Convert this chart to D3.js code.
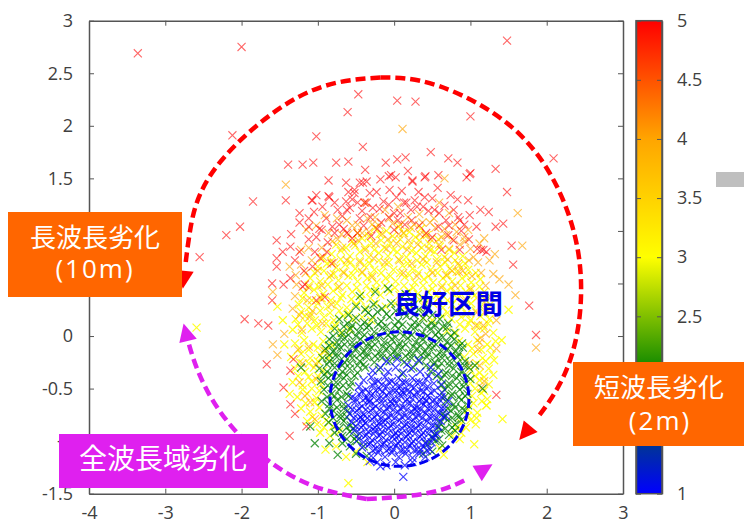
<!DOCTYPE html>
<html>
<head>
<meta charset="utf-8">
<script src="https://cdn.jsdelivr.net/npm/d3@7"></script>
<style>
  body { margin: 0; background: #fff; }
  text { font-family: "Open Sans", sans-serif; fill: #404040; }
  .ja { font-family: "Noto Sans CJK JP", sans-serif; fill: #fff; }
</style>
</head>
<body>
<svg id="chart" width="744" height="523"></svg>
<script>
// points, [x, y] in axis units, one list per colour band
const yellow_points = [
[-.25,1.03],[-.1,1],[.06,1.04],[.2,.99],[.35,1.02],[-.55,.9],[-.42,.93],[-.3,.88],[-.17,.91],[-.05,.88],[.08,.92],[.21,.87],[.33,.91],[.46,.88],[.58,.92],
[-.82,.78],[-.7,.81],[-.58,.76],[-.45,.8],[-.33,.75],[-.2,.79],[-.08,.76],[.04,.8],[.16,.75],[.29,.79],[.41,.76],[.53,.8],[.66,.75],[.79,.79],[.9,.76],
[-1,.66],[-.88,.69],[-.76,.65],[-.64,.68],[-.51,.64],[-.39,.67],[-.26,.63],[-.14,.66],[-.01,.63],[.11,.67],[.24,.64],[.36,.68],[.48,.63],[.6,.66],[.73,.64],[.85,.67],[.97,.63],
[-1.1,.55],[-.97,.52],[-.85,.56],[-.73,.53],[-.6,.57],[-.48,.52],[-.35,.55],[-.23,.51],[-.11,.55],[.02,.52],[.14,.56],[.27,.51],[.39,.54],[.51,.51],[.64,.55],[.76,.52],[.89,.55],[1.01,.51],[1.13,.54],
[-1.18,.41],[-1.05,.44],[-.93,.4],[-.8,.43],[-.68,.39],[-.55,.42],[-.43,.4],[-.31,.43],[-.18,.39],[-.06,.42],[.07,.39],[.19,.43],[.31,.4],[.44,.42],[.56,.39],[.69,.43],[.81,.4],[.94,.42],[1.06,.39],[1.18,.42],
[-1.25,.3],[-1.12,.27],[-1,.31],[-.87,.28],[-.75,.31],[-.62,.27],[-.5,.3],[-.37,.27],[-.24,.31],[-.11,.28],[.01,.31],[.13,.27],[.26,.3],[.39,.28],[.51,.31],[.64,.27],[.76,.3],[.89,.27],[1.01,.31],[1.14,.28],[1.26,.3],
[-1.29,.16],[-1.17,.19],[-1.04,.15],[-.92,.18],[-.79,.15],[-.67,.19],[-.54,.16],[-.42,.18],[-.3,.15],[.38,.17],[.5,.15],[.63,.19],[.75,.16],[.88,.18],[1,.15],[1.13,.19],[1.25,.16],
[-1.33,.06],[-1.21,.03],[-1.08,.07],[-.96,.04],[-.83,.07],[-.7,.03],[-.58,.06],[.69,.05],[.81,.03],[.93,.07],[1.06,.04],[1.18,.07],[1.3,.03],
[-1.3,-.07],[-1.18,-.04],[-1.06,-.08],[-.93,-.05],[-.81,-.09],[.85,-.05],[.97,-.08],[1.09,-.04],[1.22,-.08],[1.33,-.05],
[-1.35,-.2],[-1.22,-.17],[-1.1,-.21],[-.97,-.18],[-.86,-.21],[.92,-.2],[1.04,-.17],[1.16,-.21],[1.28,-.18],
[-1.3,-.31],[-1.17,-.34],[-1.05,-.3],[-.93,-.33],[1,-.32],[1.12,-.35],[1.24,-.31],
[-1.33,-.44],[-1.2,-.47],[-1.08,-.43],[-.96,-.46],[1,-.45],[1.12,-.42],[1.24,-.46],
[-1.27,-.58],[-1.14,-.55],[-1.02,-.59],[1.02,-.57],[1.14,-.54],[1.22,-.6],
[-1.22,-.69],[-1.1,-.72],[-.98,-.68],[.97,-.7],[1.09,-.73],[1.21,-.66],
[-1.14,-.81],[-1.01,-.84],[-.89,-.8],[.88,-.83],[1,-.8],[1.07,-.84],
[-.97,-.92],[-.84,-.95],[-.72,-.91],[.76,-.95],[.88,-.92],[.86,-.98],
[-.9,-1.08],[-.76,-1.05],[-.63,-1.15],[-.5,-1.1],[.6,-1.07],[.65,-1.13],[1.05,-1.03],
[-2.59,.08],[-1.53,.28],[-1.46,.15],[-1.44,-.08],[-1.37,-.55],[1.42,-.79],[1.31,-.23],[1.41,-.04],[1.3,-.37],[1.21,-.66],[1.5,.25],[-.6,-1.4],[-.35,-1.2],
[-.48,.98],[-.33,.95],[-.19,.97],[-.02,.95],[.13,.98],[.28,.94],[.43,.96],
[-.76,.87],[-.63,.84],[-.51,.86],[-.38,.84],[-.26,.82],[-.13,.84],[-.01,.82],[.11,.85],[.23,.81],[.36,.84],[.48,.82],[.6,.85],[.72,.82],
[-.95,.74],[-.83,.71],[-.7,.73],[-.57,.7],[-.45,.72],[-.32,.69],[-.2,.72],[-.07,.7],[.06,.73],[.18,.69],[.3,.72],[.43,.7],[.56,.73],[.67,.7],[.8,.72],[.93,.69],
[-1.04,.6],[-.92,.62],[-.79,.59],[-.67,.61],[-.54,.58],[-.42,.6],[-.29,.58],[-.17,.6],[-.05,.57],[.08,.6],[.2,.58],[.32,.6],[.45,.57],[.57,.6],[.7,.58],[.82,.61],[.95,.58],[1.07,.6],
[-1.12,.48],[-.99,.47],[-.87,.49],[-.74,.46],[-.62,.48],[-.49,.46],[-.36,.48],[-.24,.45],[-.12,.48],[.01,.46],[.13,.48],[.25,.46],[.38,.48],[.5,.45],[.63,.48],[.75,.46],[.87,.48],[1,.46],[1.12,.47],
[-1.2,.36],[-1.08,.34],[-.95,.36],[-.83,.34],[-.7,.36],[-.56,.35],[-.44,.34],[-.31,.36],[.33,.35],[.45,.34],[.58,.36],[.7,.34],[.83,.36],[.95,.34],[1.08,.36],[1.2,.34],
[-1.22,.23],[-1.09,.21],[-.97,.24],[-.84,.22],[-.72,.24],[-.6,.22],[.7,.22],[.82,.24],[.95,.21],[1.07,.24],[1.19,.22],
[-1.26,.11],[-1.14,.12],[-1.01,.1],[-.89,.12],[-.77,.1],[.86,.11],[.98,.12],[1.1,.1],[1.23,.12],
[-1.24,-.12],[-1.12,-.13],[-1,-.11],[-.9,-.14],[1.02,-.12],[1.14,-.13],[1.26,-.11],
[-1.24,-.25],[-1.12,-.26],[-1,-.24],[1.08,-.26],[1.2,-.24],[-1.26,-.38],[-1.12,-.39],[-1,-.38],[1.06,-.38],[1.18,-.39],
[-1.2,-.51],[-1.08,-.5],[-.98,-.52],[1.06,-.5],[1.18,-.52],[-1.16,-.64],[-1.04,-.63],[1.04,-.64],[1.15,-.62],[-1.07,-.77],[-.95,-.76],[.97,-.76],[1.08,-.78],[-.92,-.87],[-.8,-.86],[.82,-.87],[.94,-.87]
];
const orange_points = [
[-1.42,1.44],[.11,1.97],[1.62,1.17],[1.68,.86],[1.18,.93],[.97,1.01],[1.32,.78],[.72,1.17],[.59,1.27],[.66,1.5],[1.3,.59],[1.38,.54],[1.5,.49],[1.59,.39],[1.34,.15],[1.34,-.12],[1.14,-.49],[1.12,-.06],[1.1,-.13],[1.86,-.11],
[-1.59,-.08],[-1.53,-.18],[-1.44,.02],[-1.26,-.13],[-1.24,-.44],[-1.04,-.79],[-1.21,.06],[-1.33,.26],[-1.11,.18],[-1.37,.66],[-1.59,.42],[-1.15,1.01],[-1.02,1.05],[-.91,1.15],[-.86,.98],
[-.38,1.27],[-.25,1.13],[-.12,1.2],[.05,1.23],[.18,1.13],[.33,1.16],[.47,1.08],[-.69,.97],[-.55,1.05],[-.42,.98],[-.29,1.06],[-.16,.97],[-.02,1.07],[.12,.98],[.26,1.06],[.4,.96],[.54,1.03],[.68,.96],[.82,.99],[.93,.9],
[-.95,.84],[-.81,.9],[-.68,.84],[-.53,.88],[-.38,.82],[-.24,.88],[-.1,.83],[.03,.88],[.17,.82],[.31,.87],[.45,.83],[.59,.87],[.72,.83],[.86,.87],[1,.83],[1.1,.7],
[-1.08,.72],[-.93,.75],[-.79,.7],[-.62,.72],[-.45,.7],[-.27,.74],[-.12,.7],[.07,.72],[.23,.69],[.38,.73],[.56,.7],[.7,.73],[.84,.69],[.98,.72],[1.14,.6],
[-1.16,.6],[-1,.62],[-.83,.58],[-.66,.6],[-.42,.61],[-.29,.56],[.12,.6],[.3,.57],[.5,.6],[.68,.58],[.85,.61],[1.02,.57],[1.2,.48],
[-1.28,.49],[-1.12,.46],[-.95,.48],[-.72,.47],[.62,.46],[.8,.48],[1,.44],[1.16,.34],[1.27,.37],[1.22,.25],
[-1.3,.38],[-1.14,.34],[-.97,.36],[-.82,.3],[.92,.34],[1.08,.22],[-1.24,.2],[-1.07,.24],[-.94,.12],[1.17,.1],[1.2,.02],[1.07,.1],[1.13,-.02],
[-1.12,-.1],[-1.02,-.27],[-1.17,-.57],[-1.1,-.63],[-1.02,-.41],[-1.2,-.26],[-.92,-.14],[.98,-.26],[1.18,-.43],[1.12,-.28],
[-.75,1.12],[-.62,1.1],[-.48,1.06],[-.35,1.12],[-.2,1.05],[-.06,1.12],[.08,1.06],[.22,1.03],[.37,1.08],[.52,1.12],[.66,1.02],[.8,1.06],[.92,.94],[-.74,.92],[-.6,.97],[-.47,.91],[-.33,.99],[-.08,.92],[.06,.97],[.19,.91],[.34,.97],[.48,.92],[.62,.94],[.76,.92],
[1.25,.72],[1.12,.88],[1.04,.75],[-1.22,.68],[-1.29,.58],[-1.22,.82],[-1.12,.84],[.9,.62],[.76,.62]
];
const red_points = [
[-3.36,2.69],[-2,2.75],[-2.12,1.91],[-1.02,1.9],[-.47,2.3],[-.61,2.13],[-.41,1.8],[-1.39,1.63],[-1.2,1.63],[-1.06,1.65],[-.76,1.65],[-.6,1.66],[-.38,1.58],[-1.42,1.29],[-1.85,1.28],[-.86,1.48],[-.63,1.46],[-2.02,1.04],[-2.2,.96],[-2.55,.75],
[1.48,2.81],[.04,2.24],[.28,2.23],[1,2.09],[2.09,1.69],[.48,1.75],[.71,1.69],[.83,1.65],[1.33,1.59],[1,1.55],[.95,1.51],[1.48,1.37],[1.43,1.07],[1.33,1.04],[1.13,1.2],[1.24,1.18],[1.54,.86],[1.56,.68],[1.77,.29],[1.86,.01],[1.34,-.56],
[-1.96,.16],[-1.78,.12],[-1.65,.1],[-1.67,-.27],[-1.32,-.22],[-1.36,-.33],[-1.45,-.49],[-1.36,-.65],[-1.3,-.74],[-1.15,-.86],[-1.37,-.95],
[-.11,1.65],[.04,1.68],[.15,1.7],[.18,1.57],[.41,1.52],[.58,1.53],[.99,1.54],[-.45,1.46],[-.36,1.47],[-.18,1.49],[-.07,1.52],[.02,1.51],[.24,1.47],[.57,1.41],[.74,1.34],[.83,1.3],[.97,1.29],
[-1.02,1.34],[-1.08,1.29],[-.86,1.33],[-.63,1.28],[-.6,1.37],[-.52,1.39],[-.39,1.27],[-.23,1.37],[-.06,1.39],[.16,1.27],[.32,1.37],[.5,1.31],[.59,1.17],[.86,1.1],[1.08,1.04],[1.17,.82],[1.09,.83],
[-1.24,1.17],[-1.24,1.08],[-.94,1.23],[-.74,1.2],[-.89,1.12],[-.98,1.02],[-1.12,.92],[-1.35,.97],[-1.54,.91],[-1.36,.85],[-1.46,.8],[-1.54,.74],[-1.24,.8],[-1.04,.8],[-.97,.74],[-1.54,.66],[-1.36,.55],[-1.6,.5],[-1.45,.49],[-1.17,.49],[-1.6,.34],[-1.02,.34],[-.91,.37],[-1.07,.66],[-.82,.69],[-1.2,.47],
[-.04,1.53],[.24,1.48],[.4,1.51],[.1,1.38],[-.07,1.25],[.03,1.32],[.27,1.29],[.4,1.32],[.13,1.27],[-.19,1.21],[.45,1.19],[.99,1.15],[.84,1.13],[0,1.17],[-.07,1.13],[.23,1.1],[.58,1.04],[.71,.96],[.78,.91],[.14,1.06],[-.17,1.08],[0,1.01],[1.14,.82],[1.21,.8],[.86,.82],
[-1.07,1.29],[-.85,1.32],[-.81,1.04],[-.95,1.01],[-.87,.89],[-.62,.98],[-.48,.98],[-.62,1.2],[-.48,1.27],[-.36,1.27],[-.55,1.3],[-.41,1.46],[-.52,1.36],[-.32,1.36],[-.31,1.13],[-.45,1.12],[-.72,1.06],[-.55,.93],[-.3,.95],[.3,1.23],[.68,1.1],[.42,.98],[.62,.82],
[-.78,1.27],[-.68,1.14],[-.58,1.22],[-.42,1.19],[-.28,1.22],[-.14,1.28],[.08,1.17],[.22,1.2],[.38,1.23],[.53,1.2],[.66,1.24],[.78,1.2],[.92,1.06],[-1.12,1.12],[-1.05,1.18],[-1.12,1.04],[-1.02,.94],[-.78,.98],[-.66,1.02],[-.4,1.05],[-.22,1.02],[.05,1.1],[.33,1.05],[.5,.94],[.72,1.05],[.88,1],[.98,.92],[-1.3,.72],[-1.18,.62],[-.88,.8]
];
const green_points = [
[-.45,.38],[-.25,.42],[-.08,.45],[.15,.4],[.38,.36],[.5,.2],[-.6,.2],
[-.5,.28],[-.38,.25],[-.27,.3],[-.16,.26],[-.04,.31],[.08,.27],[.2,.3],[.32,.25],[.44,.28],
[-.72,.16],[-.61,.12],[-.5,.17],[-.39,.13],[-.28,.18],[-.17,.14],[-.06,.18],[.05,.14],[.16,.19],[.27,.13],[.38,.17],[.49,.12],[.6,.16],[.71,.12],
[-.78,.07],[-.68,.03],[-.57,.07],[-.47,.04],[-.36,.08],[-.26,.04],[-.15,.08],[-.05,.03],[.06,.07],[.16,.04],[.27,.08],[.37,.03],[.48,.07],[.58,.04],[.69,.08],[.79,.03],
[-.85,-.03],[-.75,-.06],[-.65,-.02],[-.55,-.06],[-.44,-.03],[-.34,-.07],[-.24,-.02],[-.13,-.06],[-.03,-.03],[.07,-.07],[.18,-.02],[.28,-.06],[.38,-.03],[.49,-.07],[.59,-.02],[.69,-.06],[.79,-.03],[.89,-.07],
[-.9,-.12],[-.8,-.15],[-.7,-.11],[-.6,-.16],[-.5,-.12],[-.4,-.15],[-.3,-.11],[-.2,-.16],[-.1,-.12],[0,-.15],[.1,-.11],[.2,-.16],[.3,-.12],[.4,-.15],[.5,-.11],[.6,-.16],[.7,-.12],[.8,-.15],[.9,-.11],
[-.94,-.21],[-.85,-.24],[-.75,-.2],[-.65,-.25],[-.55,-.21],[-.45,-.24],[-.36,-.2],[-.26,-.25],[-.16,-.21],[-.06,-.24],[.04,-.2],[.13,-.25],[.23,-.21],[.33,-.24],[.43,-.2],[.53,-.25],[.63,-.21],[.73,-.24],[.83,-.2],[.93,-.24],
[-.98,-.31],[-.88,-.34],[-.78,-.3],[-.68,-.34],[-.58,-.31],[-.48,-.35],[-.38,-.3],[.48,-.34],[.58,-.3],[.68,-.35],[.78,-.31],[.88,-.34],[.98,-.3],
[-.96,-.43],[-.86,-.4],[-.76,-.44],[-.66,-.4],[-.56,-.44],[.62,-.41],[.72,-.45],[.82,-.4],[.92,-.44],[1,-.41],
[-.92,-.51],[-.82,-.55],[-.72,-.51],[-.62,-.55],[.66,-.51],[.76,-.55],[.86,-.51],[.96,-.55],
[-.95,-.62],[-.85,-.65],[-.75,-.61],[-.66,-.65],[.68,-.62],[.78,-.65],[.88,-.61],[.97,-.66],
[-.9,-.74],[-.8,-.71],[-.7,-.75],[-.61,-.71],[.64,-.74],[.74,-.71],[.84,-.75],[.93,-.71],
[-.86,-.82],[-.76,-.85],[-.66,-.81],[-.57,-.85],[.6,-.83],[.7,-.8],[.8,-.84],[.88,-.8],
[-.78,-.92],[-.68,-.95],[-.58,-.91],[-.49,-.95],[.53,-.93],[.62,-.9],[.72,-.94],[.8,-.9],
[-.68,-1.02],[-.58,-1.05],[-.49,-1],[-.4,-1.05],[.44,-1.03],[.54,-1],[.63,-1.04],
[-.5,-1.12],[-.36,-1.14],[.38,-1.12],[.5,-1.1],[.25,-.3],[-.2,-.32],[.1,-.36],
[-1.04,-1.02],[-.74,-1.13],[-.85,-1.02],[-1.1,-.86],[-1.22,-.3],[1.16,-.5],[1.06,-.28],
[-.34,.22],[-.22,.23],[-.1,.21],[.02,.24],[.14,.22],[.26,.2],[.4,.22],[-.66,.09],[-.55,.1],[-.44,.09],[-.33,.1],[-.21,.11],[-.1,.09],[.01,.1],[.11,.11],[.22,.09],[.33,.11],[.43,.09],[.54,.1],[.64,.09],
[-.8,0],[-.7,-.01],[-.6,.01],[-.5,0],[-.39,.01],[-.29,-.01],[-.18,0],[-.08,.01],[.02,-.01],[.12,0],[.23,.01],[.33,-.01],[.43,0],[.54,.01],[.64,-.01],[.74,0],
[-.85,-.09],[-.75,-.1],[-.65,-.08],[-.55,-.1],[-.45,-.09],[-.35,-.1],[-.25,-.08],[-.15,-.1],[-.05,-.09],[.05,-.1],[.15,-.08],[.25,-.1],[.35,-.09],[.45,-.1],[.55,-.08],[.65,-.1],[.75,-.09],[.85,-.1],
[-.85,-.18],[-.75,-.17],[-.65,-.19],[-.55,-.17],[-.45,-.18],[-.35,-.17],[-.25,-.19],[-.15,-.17],[-.05,-.18],[.05,-.17],[.15,-.19],[.25,-.17],[.35,-.18],[.45,-.17],[.55,-.19],[.65,-.17],[.75,-.18],[.85,-.17],
[-.88,-.27],[-.78,-.26],[-.68,-.28],[-.58,-.26],[-.48,-.28],[-.4,-.27],[.42,-.28],[.52,-.27],[.62,-.26],[.72,-.28],[.82,-.26],[.92,-.28],
[-.92,-.37],[-.82,-.37],[-.72,-.38],[-.62,-.37],[-.52,-.38],[.56,-.38],[.66,-.37],[.76,-.38],[.86,-.37],[.96,-.38],
[-.87,-.47],[-.77,-.48],[-.67,-.47],[-.58,-.48],[.62,-.47],[.71,-.48],[.81,-.47],[.91,-.48],[-.88,-.58],[-.78,-.57],[-.69,-.58],[-.6,-.57],[.66,-.58],[.75,-.57],[.85,-.58],[.93,-.57],
[-.85,-.69],[-.75,-.68],[-.66,-.69],[.7,-.69],[.8,-.68],[.89,-.69],[-.8,-.78],[-.7,-.78],[-.62,-.77],[.66,-.77],[.76,-.78],[.85,-.77],[-.72,-.88],[-.62,-.87],[-.54,-.88],[.58,-.87],[.67,-.88],[.76,-.87],[-.62,-.98],[-.52,-.98],[.5,-.97],[.59,-.98]
];
const blue_points = [
[-.1,-.24],[.04,-.22],[.17,-.27],[.32,-.23],[.48,-.3],
[-.28,-.33],[-.18,-.3],[-.08,-.34],[.02,-.3],[.12,-.35],[.22,-.31],[.34,-.34],[.45,-.38],[.58,-.36],
[-.4,-.42],[-.3,-.39],[-.21,-.43],[-.12,-.39],[-.03,-.43],[.06,-.4],[.15,-.44],[.24,-.4],[.33,-.44],[.42,-.41],[.52,-.45],[.62,-.46],
[-.46,-.48],[-.37,-.51],[-.28,-.47],[-.19,-.51],[-.1,-.48],[-.01,-.52],[.08,-.48],[.17,-.52],[.26,-.49],[.35,-.52],[.44,-.48],[.53,-.52],[.63,-.54],
[-.55,-.58],[-.46,-.55],[-.37,-.59],[-.28,-.55],[-.19,-.59],[-.1,-.56],[-.01,-.6],[.08,-.56],[.17,-.6],[.26,-.56],[.35,-.6],[.44,-.57],[.53,-.61],[.62,-.58],[.71,-.62],
[-.6,-.66],[-.51,-.63],[-.42,-.67],[-.33,-.63],[-.24,-.67],[-.15,-.64],[-.06,-.68],[.03,-.64],[.12,-.68],[.21,-.64],[.3,-.68],[.39,-.65],[.48,-.69],[.57,-.65],[.66,-.69],
[-.58,-.74],[-.49,-.71],[-.4,-.75],[-.31,-.71],[-.22,-.75],[-.13,-.72],[-.04,-.76],[.05,-.72],[.14,-.76],[.23,-.72],[.32,-.76],[.41,-.73],[.5,-.77],[.59,-.73],[.68,-.76],
[-.56,-.82],[-.47,-.79],[-.38,-.83],[-.29,-.79],[-.2,-.83],[-.11,-.8],[-.02,-.84],[.07,-.8],[.16,-.84],[.25,-.8],[.34,-.84],[.43,-.81],[.52,-.85],[.61,-.81],
[-.52,-.9],[-.43,-.87],[-.34,-.91],[-.25,-.87],[-.16,-.91],[-.07,-.88],[.02,-.92],[.11,-.88],[.2,-.92],[.29,-.88],[.38,-.92],[.47,-.89],[.56,-.93],
[-.47,-.98],[-.38,-.95],[-.29,-.99],[-.2,-.95],[-.11,-.99],[-.02,-.96],[.07,-1],[.16,-.96],[.25,-1],[.34,-.96],[.43,-1],[.52,-.97],
[-.42,-1.06],[-.33,-1.03],[-.24,-1.07],[-.15,-1.03],[-.06,-1.07],[.03,-1.04],[.12,-1.08],[.21,-1.04],[.3,-1.08],[.39,-1.05],[.47,-1.08],
[-.3,-1.14],[-.21,-1.11],[-.12,-1.15],[-.03,-1.11],[.06,-1.15],[.15,-1.12],[.24,-1.16],[.33,-1.12],[.41,-1.15],
[-.22,-1.2],[-.1,-1.23],[-.18,-1.24],[.02,-1.2],[.14,-1.23],[.24,-1.2],[-.32,-1.19],[.12,-1.34],
[-.33,-.6],[-.05,-.62],[.22,-.85],[-.15,-.82],[.1,-.52],[.3,-.71],[-.25,-.9],[.42,-.62],[-.42,-.79],[.05,-.95],
[-.26,-.44],[-.16,-.46],[-.07,-.44],[.02,-.46],[.11,-.44],[.2,-.46],[.29,-.44],[.38,-.46],[-.42,-.53],[-.33,-.54],[-.24,-.52],[-.15,-.53],[-.06,-.54],[.03,-.52],[.12,-.54],[.21,-.53],[.3,-.54],[.39,-.53],[.48,-.54],
[-.5,-.6],[-.41,-.61],[-.32,-.62],[-.23,-.61],[-.14,-.6],[-.03,-.64],[.06,-.6],[.15,-.62],[.24,-.6],[.33,-.62],[.42,-.61],[.5,-.62],[.6,-.61],
[-.55,-.7],[-.46,-.69],[-.37,-.7],[-.28,-.69],[-.19,-.7],[-.1,-.69],[-.01,-.7],[.08,-.69],[.17,-.7],[.26,-.69],[.35,-.7],[.44,-.69],[.53,-.7],[.62,-.69],
[-.53,-.78],[-.44,-.77],[-.35,-.78],[-.26,-.77],[-.17,-.78],[-.08,-.77],[.01,-.78],[.1,-.77],[.19,-.78],[.28,-.77],[.37,-.78],[.46,-.77],[.55,-.78],[.64,-.77],
[-.5,-.86],[-.41,-.85],[-.32,-.86],[-.23,-.85],[-.14,-.86],[-.05,-.85],[.04,-.86],[.13,-.85],[.22,-.88],[.31,-.85],[.4,-.86],[.49,-.85],[.58,-.86],
[-.45,-.93],[-.36,-.94],[-.27,-.93],[-.18,-.94],[-.09,-.93],[0,-.94],[.09,-.93],[.18,-.94],[.27,-.93],[.36,-.94],[.45,-.93],[.53,-.94],
[-.4,-1.01],[-.31,-1.02],[-.22,-1.01],[-.13,-1.02],[-.04,-1.01],[.05,-1.02],[.14,-1.01],[.23,-1.02],[.32,-1.01],[.41,-1.02],[.49,-1.01],
[-.28,-1.09],[-.19,-1.08],[-.1,-1.09],[-.01,-1.08],[.08,-1.09],[.17,-1.08],[.26,-1.09],[.35,-1.08],[.43,-1.09]
];

// colour scale of the bar on the right
const color_stops = [1, 2, 3, 4, 5];
const color_values = ['#0000ff', '#008000', '#ffff00', '#ffa500', '#ff0000'];

const x_ticks = [-4, -3, -2, -1, 0, 1, 2, 3];
const y_ticks = [-1.5, -1, -0.5, 0, 0.5, 1, 1.5, 2, 2.5, 3];
const bar_ticks = [1, 1.5, 2, 2.5, 3, 3.5, 4, 4.5, 5];

// hand drawn arcs over the plot, also in axis units
const red_arc_left = [[-.18,2.46],[-1.24,2.28],[-2.33,1.61],[-2.68,.98],[-2.77,.45]];
const red_arc_right = [[-.18,2.46],[.58,2.38],[1.63,1.93],[2.28,1.17],[2.45,.39],[2.23,-.37],[1.64,-.99]];
const purple_arc = [[-.36,-1.55],[-1.24,-1.37],[-2.07,-.91],[-2.55,-.37],[-2.76,.12]];
const purple_arc_right = [[-.36,-1.55],[.58,-1.47],[1.29,-1.22]];

const left = 89, right = 623, top_y = 20.7, bottom = 493.7;
const bar_left = 636, bar_right = 662;

const x = d3.scaleLinear().domain([-4, 3]).range([left, right]);
const y = d3.scaleLinear().domain([-1.5, 3]).range([bottom, top_y]);
const bar_y = d3.scaleLinear().domain([1, 5]).range([bottom, top_y]);

const svg = d3.select('#chart');

// scatter marks
const cross = d3.symbol().type(d3.symbolTimes).size(44)();
function drawPoints(points, color, opacity, weight) {
    svg.append('g')
        .selectAll('path')
        .data(points)
        .enter()
        .append('path')
        .attr('d', cross)
        .attr('transform', d => `translate(${x(d[0])},${y(d[1])})`)
        .attr('fill', 'none')
        .attr('stroke', color)
        .attr('stroke-width', weight)
        .attr('stroke-opacity', opacity);
}
drawPoints(yellow_points, color_values[2], .85, 1.2);
drawPoints(orange_points, color_values[3], .65, 1.1);
drawPoints(red_points, color_values[4], .6, 1.1);
drawPoints(green_points, color_values[1], .75, 1.2);
drawPoints(blue_points, color_values[0], .75, 1.2);

// frame and ticks
function styleAxis(g) {
    g.selectAll('.domain').attr('stroke', '#555').attr('stroke-width', 1.5);
    g.selectAll('line').attr('stroke', '#555');
    g.selectAll('text')
        .attr('fill', '#404040')
        .style('font-size', '18px')
        .style('font-family', '"Open Sans", sans-serif');
}
svg.append('g').attr('transform', `translate(0,${bottom})`)
    .call(d3.axisBottom(x).tickValues(x_ticks).tickSize(-5).tickSizeOuter(0).tickPadding(13).tickFormat(String))
    .call(styleAxis);
svg.append('g').attr('transform', `translate(${left},0)`)
    .call(d3.axisLeft(y).tickValues(y_ticks).tickSize(-5).tickSizeOuter(0).tickPadding(16).tickFormat(String))
    .call(styleAxis);
svg.append('g').attr('transform', `translate(0,${top_y})`)
    .call(d3.axisTop(x).tickValues(x_ticks).tickSize(-5).tickSizeOuter(0).tickFormat(''))
    .call(styleAxis);
svg.append('g').attr('transform', `translate(${right},0)`)
    .call(d3.axisRight(y).tickValues(y_ticks).tickSize(-5).tickSizeOuter(0).tickFormat(''))
    .call(styleAxis);

// colour bar
const gradient = svg.append('defs').append('linearGradient')
    .attr('id', 'bar-gradient')
    .attr('x1', 0).attr('x2', 0).attr('y1', 1).attr('y2', 0);
gradient.selectAll('stop')
    .data(color_stops)
    .enter()
    .append('stop')
    .attr('offset', d => (d - 1) / 4)
    .attr('stop-color', (d, i) => color_values[i]);
svg.append('rect')
    .attr('x', bar_left).attr('y', top_y)
    .attr('width', bar_right - bar_left).attr('height', bottom - top_y)
    .attr('fill', 'url(#bar-gradient)');
svg.append('g').attr('transform', `translate(${bar_left},0)`)
    .call(d3.axisLeft(bar_y).tickValues(bar_ticks).tickSize(-5).tickSizeOuter(0).tickFormat(''))
    .call(styleAxis);
svg.append('g').attr('transform', `translate(${bar_right},0)`)
    .call(d3.axisRight(bar_y).tickValues(bar_ticks).tickSize(-5).tickSizeOuter(0).tickFormat(String).tickPadding(0))
    .call(styleAxis)
    .call(g => g.selectAll('text').attr('x', 15));
svg.append('rect')
    .attr('x', bar_left).attr('y', top_y)
    .attr('width', bar_right - bar_left).attr('height', bottom - top_y)
    .attr('fill', 'none').attr('stroke', '#555').attr('stroke-width', 1.5);

// dashed ellipse round the good region
svg.append('ellipse')
    .attr('cx', x(.07)).attr('cy', y(-.6))
    .attr('rx', x(.98) - x(.07)).attr('ry', y(-1.24) - y(-.6))
    .attr('fill', 'none')
    .attr('stroke', '#0000f0')
    .attr('stroke-width', 3)
    .attr('stroke-dasharray', '9 4');

// dashed arc ending in an arrow head
const arc_line = d3.line().x(d => x(d[0])).y(d => y(d[1])).curve(d3.curveNatural);
function drawArc(points, color) {
    const path = svg.append('path')
        .attr('d', arc_line(points))
        .attr('fill', 'none')
        .attr('stroke', color)
        .attr('stroke-width', 4.5);
    const len = path.node().getTotalLength();
    // cut the line short so it does not poke through the tip
    path.style('stroke-dasharray', d3.range(0, Math.floor((len - 14) / 15)).map(() => '10 5').join(' ') + ` 0 ${len}`);
    const tip = path.node().getPointAtLength(len);
    const back = path.node().getPointAtLength(len - 18);
    const ux = (tip.x - back.x) / 18, uy = (tip.y - back.y) / 18;
    svg.append('polygon')
        .attr('points', [
            [tip.x, tip.y],
            [back.x - uy * 9, back.y + ux * 9],
            [back.x + uy * 9, back.y - ux * 9]
        ].join(' '))
        .attr('fill', color);
}
drawArc(red_arc_left, '#ff0000');
drawArc(red_arc_right, '#ff0000');
drawArc(purple_arc, '#df20ef');
drawArc(purple_arc_right, '#df20ef');

// callouts, pixel placed like the slide shapes they copy
const orange_box = '#ff6600', purple_box = '#df20ef';
function box(bx, by, w, h, color) {
    svg.append('rect').attr('x', bx).attr('y', by).attr('width', w).attr('height', h).attr('fill', color);
}
function label(tx, ty, str, size, cls) {
    return svg.append('text')
        .attr('class', cls || 'ja')
        .attr('x', tx).attr('y', ty)
        .attr('text-anchor', 'middle')
        .attr('dominant-baseline', 'central')
        .style('font-size', size + 'px')
        .text(str);
}
box(8, 212, 174, 85, orange_box);
label(95, 235, '長波長劣化', 26);
label(95, 268, '(10m)', 26).style('font-family', '"Open Sans", sans-serif').style('letter-spacing', '2px');
box(573, 362, 171, 84, orange_box);
label(659, 385, '短波長劣化', 26);
label(660, 420, '(2m)', 26).style('font-family', '"Open Sans", sans-serif').style('letter-spacing', '2px');
box(59, 434, 209, 54, purple_box);
label(163, 457, '全波長域劣化', 28);
label(448, 302, '良好区間', 27.5)
    .style('fill', '#0000e6')
    .style('font-weight', 700);
box(716, 172, 28, 15, '#bfbfbf');
</script>
</body>
</html>
